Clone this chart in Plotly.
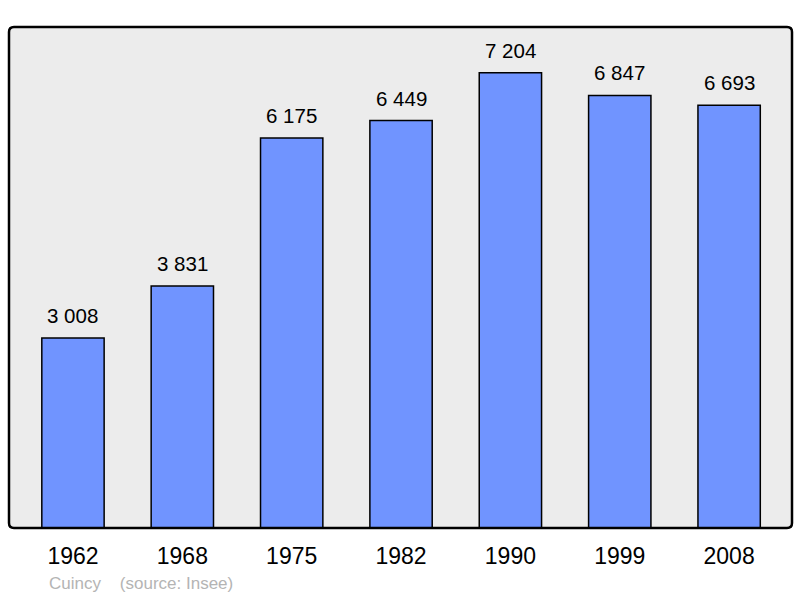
import plotly.graph_objects as go

years = ["1962", "1968", "1975", "1982", "1990", "1999", "2008"]
population = [3008, 3831, 6175, 6449, 7204, 6847, 6693]
labels = ["3 008", "3 831", "6 175", "6 449", "7 204", "6 847", "6 693"]
caption = "Cuincy    (source: Insee)"

FONT = "Liberation Sans, Arial, sans-serif"

fig = go.Figure()
fig.add_trace(go.Bar(
    x=years, y=population, width=0.57,
    marker=dict(color="#7094ff", line=dict(color="#000000", width=1.5)),
    hoverinfo="skip",
))

for i, (v, t) in enumerate(zip(population, labels)):
    fig.add_annotation(x=i, y=v, text=t, showarrow=False, xref="x", yref="y",
                       yanchor="bottom", yshift=9,
                       font=dict(family=FONT, size=20.5, color="#000000"))

fig.add_annotation(xref="paper", yref="paper", x=(47 - 9) / 783, y=-(583 - 528) / 501,
                   text=caption.replace("    ", "&nbsp;&nbsp;&nbsp;&nbsp;"), showarrow=False,
                   xanchor="left", yanchor="middle",
                   font=dict(family=FONT, size=17, color="#b4b4b4"))

# rounded border path in paper coords
rx, ry = 5 / 783, 5 / 501
path = (f"M {rx},0 L {1-rx},0 Q 1,0 1,{ry} L 1,{1-ry} Q 1,1 {1-rx},1 "
        f"L {rx},1 Q 0,1 0,{1-ry} L 0,{ry} Q 0,0 {rx},0 Z")
fig.add_shape(type="path", xref="paper", yref="paper", path=path,
              line=dict(color="#000000", width=2.5), fillcolor="rgba(0,0,0,0)", layer="above")

fig.update_layout(
    width=800, height=598,
    margin=dict(l=9, r=8, t=27, b=70),
    paper_bgcolor="#ffffff", plot_bgcolor="#ececec",
    showlegend=False,
    xaxis=dict(type="category", range=[-0.585, 6.575], showgrid=False, zeroline=False,
               showline=False, ticks="", ticklabelstandoff=12,
               tickfont=dict(family=FONT, size=23, color="#000000")),
    yaxis=dict(range=[0, 7930], showgrid=False, zeroline=False, showticklabels=False,
               showline=False, ticks=""),
)

fig.write_html("out.html", config={"displayModeBar": False},
               post_script="document.body.style.margin='0';document.body.style.overflow='hidden';")
